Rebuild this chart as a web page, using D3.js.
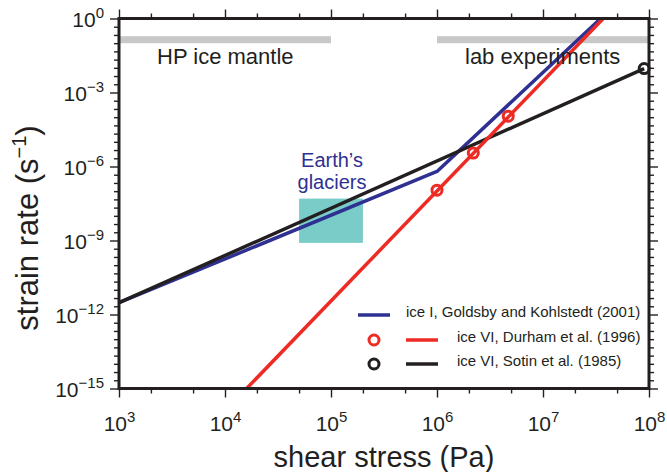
<!DOCTYPE html>
<html>
<head>
<meta charset="utf-8">
<script src="https://cdn.jsdelivr.net/npm/d3@7"></script>
<style>
body { margin: 0; background: #fff; }
svg text { font-family: "Liberation Sans", Arial, Helvetica, sans-serif; fill: #231f20; }
</style>
</head>
<body>
<div id="chart"></div>
<script>
// flow laws: [shear stress (Pa), strain rate (1/s)]
var iceI = [[1e3, 3.0e-12], [1e6, 6.3e-7], [3.5e7, 1]];
var durhamLine = [[1.6e4, 1e-15], [3.7e7, 1]];
var durhamPts = [[1e6, 1.1e-7], [2.2e6, 3.5e-6], [4.7e6, 1.1e-4]];
var sotinLine = [[1e3, 3.0e-12], [9e7, 9.3e-3]];
var sotinPts = [[9e7, 9.3e-3]];

var glacierStress = [5e4, 2e5];
var glacierRate = [8e-10, 5e-8];
var mantleStress = [1e3, 1e5];
var labStress = [1e6, 1e8];
var barRate = 0.138;

var xMajor = [1e3, 1e4, 1e5, 1e6, 1e7, 1e8];
var yMajor = [1, 1e-3, 1e-6, 1e-9, 1e-12, 1e-15];

var legendLabels = ['ice I, Goldsby and Kohlstedt (2001)', 'ice VI, Durham et al. (1996)', 'ice VI, Sotin et al. (1985)'];
var legendColors = ['#2e3192', '#ee2a24', '#231f20'];
var legendCircle = [false, true, true];

var margin = { top: 18.5, right: 18, bottom: 83.5, left: 119 },
    width = 667 - margin.left - margin.right,
    height = 472 - margin.top - margin.bottom,
    ink = '#231f20';

var xScale = d3.scaleLog().domain([1e3, 1e8]).range([0, width]);
var yScale = d3.scaleLog().domain([1e-15, 1]).range([height, 0]);

var xMinor = [];
xMajor.slice(0, -1).forEach(function(v) { xMinor.push(2 * v, 5 * v); });
var yMinor = d3.range(0, 46).filter(function(i) { return i % 9 !== 0; })
    .map(function(i) { return Math.pow(10, -i / 3); });

var svg = d3.select('#chart').append('svg')
    .attr('width', 667)
    .attr('height', 472);

var chart = svg.append('g')
    .attr('transform', 'translate(' + margin.left + ',' + margin.top + ')');

chart.append('clipPath').attr('id', 'plot-clip')
  .append('rect').attr('width', width).attr('height', height);

function expo(d) {
    return String(Math.round(Math.log10(d))).replace('-', '\u2212');
}

function styleTicks(g) {
    g.select('.domain').remove();
    g.selectAll('.tick line').attr('stroke', ink).attr('stroke-width', 1.4);
}

// ticks on all four sides
chart.append('g').attr('transform', 'translate(0,' + height + ')')
    .call(d3.axisBottom(xScale).tickValues(xMinor).tickSize(5).tickFormat(''))
    .call(styleTicks);
chart.append('g')
    .call(d3.axisTop(xScale).tickValues(xMinor).tickSize(5).tickFormat(''))
    .call(styleTicks);
chart.append('g')
    .call(d3.axisTop(xScale).tickValues(xMajor).tickSize(9).tickFormat(''))
    .call(styleTicks);
chart.append('g')
    .call(d3.axisLeft(yScale).tickValues(yMinor).tickSize(5).tickFormat(''))
    .call(styleTicks);
chart.append('g').attr('transform', 'translate(' + width + ',0)')
    .call(d3.axisRight(yScale).tickValues(yMinor).tickSize(5).tickFormat(''))
    .call(styleTicks);
chart.append('g').attr('transform', 'translate(' + width + ',0)')
    .call(d3.axisRight(yScale).tickValues(yMajor).tickSize(9).tickFormat(''))
    .call(styleTicks);

var xGuide = chart.append('g').attr('transform', 'translate(0,' + height + ')')
    .call(d3.axisBottom(xScale).tickValues(xMajor).tickSize(9))
    .call(styleTicks);
xGuide.attr('font-size', null).attr('font-family', null);
xGuide.selectAll('.tick text').each(function(d) {
    var t = d3.select(this).text(null)
        .attr('y', 42).attr('dy', null)
        .attr('font-size', 21).attr('fill', ink);
    t.append('tspan').text('10');
    t.append('tspan').attr('dy', -9).attr('font-size', 15).text(expo(d));
});

var yGuide = chart.append('g')
    .call(d3.axisLeft(yScale).tickValues(yMajor).tickSize(9))
    .call(styleTicks);
yGuide.attr('font-size', null).attr('font-family', null);
yGuide.selectAll('.tick text').each(function(d) {
    var t = d3.select(this).text(null)
        .attr('x', -15).attr('dy', 7.5)
        .attr('font-size', 21).attr('fill', ink);
    t.append('tspan').text('10');
    t.append('tspan').attr('dy', -9).attr('font-size', 15).text(expo(d));
});

// grey ranges and glacier box
var plot = chart.append('g').attr('clip-path', 'url(#plot-clip)');

[mantleStress, labStress].forEach(function(r) {
    plot.append('rect')
        .attr('x', xScale(r[0]))
        .attr('width', xScale(r[1]) - xScale(r[0]))
        .attr('y', yScale(barRate) - 3.5)
        .attr('height', 7)
        .attr('fill', '#c8c8c8');
});

plot.append('rect')
    .attr('x', xScale(glacierStress[0]))
    .attr('width', xScale(glacierStress[1]) - xScale(glacierStress[0]))
    .attr('y', yScale(glacierRate[1]))
    .attr('height', yScale(glacierRate[0]) - yScale(glacierRate[1]))
    .attr('fill', '#7accc8');

var line = d3.line()
    .x(function(d) { return xScale(d[0]); })
    .y(function(d) { return yScale(d[1]); });

[[iceI, legendColors[0]], [sotinLine, legendColors[2]], [durhamLine, legendColors[1]]].forEach(function(s) {
    plot.append('path')
        .datum(s[0])
        .attr('d', line)
        .attr('fill', 'none')
        .attr('stroke', s[1])
        .attr('stroke-width', 3.5)
        .attr('stroke-linejoin', 'round');
});

[[durhamPts, legendColors[1]], [sotinPts, legendColors[2]]].forEach(function(s) {
    chart.selectAll(null).data(s[0])
        .enter().append('circle')
        .attr('cx', function(d) { return xScale(d[0]); })
        .attr('cy', function(d) { return yScale(d[1]); })
        .attr('r', 5)
        .attr('fill', 'none')
        .attr('stroke', s[1])
        .attr('stroke-width', 3);
});

// frame
chart.append('rect')
    .attr('width', width)
    .attr('height', height)
    .attr('fill', 'none')
    .attr('stroke', ink)
    .attr('stroke-width', 3);

// annotations
chart.append('text').attr('x', 157 - margin.left).attr('y', 64 - margin.top)
    .attr('font-size', 22).text('HP ice mantle');
chart.append('text').attr('x', 465 - margin.left).attr('y', 64 - margin.top)
    .attr('font-size', 22).text('lab experiments');

var glacierLabel = chart.append('text')
    .attr('text-anchor', 'middle')
    .attr('font-size', 20)
    .style('fill', legendColors[0]);
glacierLabel.append('tspan').attr('x', 332 - margin.left).attr('y', 167 - margin.top).text('Earth\u2019s');
glacierLabel.append('tspan').attr('x', 332 - margin.left).attr('y', 189 - margin.top).text('glaciers');

// legend
var legend = svg.append('g');
var rowY = [315, 340, 364];
legendLabels.forEach(function(label, i) {
    var lx = legendCircle[i] ? 406 : 358;
    legend.append('line')
        .attr('x1', lx).attr('x2', lx + 32)
        .attr('y1', rowY[i]).attr('y2', rowY[i])
        .attr('stroke', legendColors[i])
        .attr('stroke-width', 3.5);
    if (legendCircle[i]) {
        legend.append('circle')
            .attr('cx', 374).attr('cy', rowY[i]).attr('r', 5)
            .attr('fill', 'none')
            .attr('stroke', legendColors[i])
            .attr('stroke-width', 3);
    }
    legend.append('text')
        .attr('x', legendCircle[i] ? 457 : 406)
        .attr('y', rowY[i] + 2)
        .attr('font-size', 15)
        .text(label);
});

// axis titles
svg.append('text')
    .attr('x', 384).attr('y', 467)
    .attr('text-anchor', 'middle')
    .attr('font-size', 29)
    .text('shear stress (Pa)');

var yTitle = svg.append('text')
    .attr('transform', 'translate(38,228) rotate(-90)')
    .attr('text-anchor', 'middle')
    .attr('font-size', 31);
yTitle.append('tspan').text('strain rate (s');
yTitle.append('tspan').attr('dy', -12).attr('font-size', 20).text('\u22121');
yTitle.append('tspan').attr('dy', 12).text(')');
</script>
</body>
</html>
